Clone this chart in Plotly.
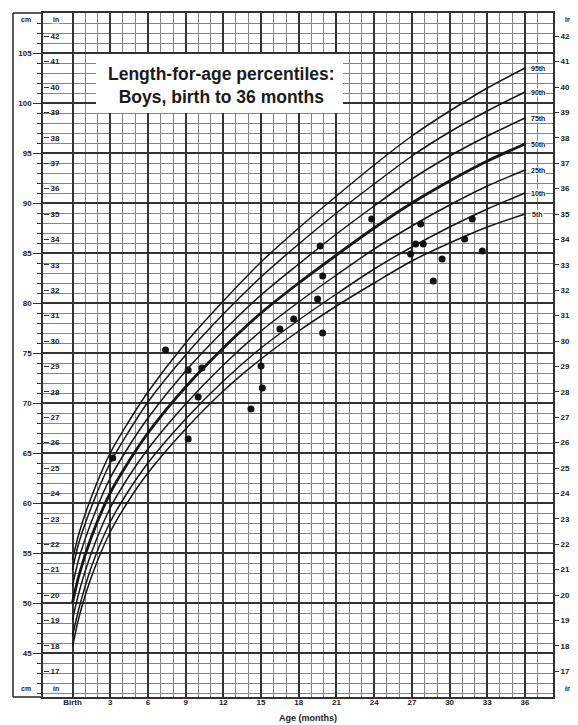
import plotly.graph_objects as go

# ---------------- data ----------------
ages = [0, 0.5, 1.5, 3, 4.5, 6, 9, 12, 15, 18, 21, 24, 27, 30, 33, 36]
p95 = [54.3, 56.9, 60.6, 65.0, 68.2, 71.1, 76.0, 80.2, 84.1, 87.5, 90.7, 93.8, 96.7, 99.2, 101.5, 103.5]
p90 = [53.3, 56.0, 59.6, 64.0, 67.2, 70.1, 74.8, 78.9, 82.6, 85.9, 89.0, 91.9, 94.7, 97.1, 99.2, 101.1]
p75 = [51.7, 54.4, 58.1, 62.5, 65.7, 68.5, 73.2, 77.2, 80.8, 83.9, 86.9, 89.7, 92.4, 94.7, 96.7, 98.5]
p50 = [50.0, 52.7, 56.6, 61.0, 64.2, 67.0, 71.6, 75.5, 79.0, 82.0, 84.8, 87.5, 90.0, 92.2, 94.2, 95.9]
p25 = [48.3, 51.0, 55.0, 59.5, 62.7, 65.4, 69.9, 73.8, 77.2, 80.1, 82.8, 85.4, 87.7, 89.8, 91.7, 93.3]
p10 = [46.7, 49.4, 53.6, 58.1, 61.3, 64.0, 68.4, 72.2, 75.5, 78.3, 80.9, 83.4, 85.6, 87.6, 89.4, 91.0]
p5 = [45.6, 48.5, 52.6, 57.1, 60.3, 63.0, 67.4, 71.2, 74.4, 77.2, 79.7, 82.0, 84.2, 86.0, 87.6, 88.9]
pct_names = ["95th", "90th", "75th", "50th", "25th", "10th", "5th"]

pt_age = [3.2, 7.4, 9.2, 10.3, 10.0, 9.2, 14.2, 15.0, 15.1, 16.5, 17.6, 19.7, 19.9, 19.5,
          19.9, 23.8, 26.9, 27.7, 27.3, 27.9, 29.4, 28.7, 31.2, 31.8, 32.6]
pt_len = [64.5, 75.3, 73.3, 73.5, 70.6, 66.4, 69.4, 73.7, 71.5, 77.4, 78.4, 85.7, 82.7, 80.4,
          77.0, 88.4, 84.9, 87.9, 85.9, 85.9, 84.4, 82.2, 86.4, 88.4, 85.2]

month_ticks = [0, 3, 6, 9, 12, 15, 18, 21, 24, 27, 30, 33, 36]
month_text = ["Birth", "3", "6", "9", "12", "15", "18", "21", "24", "27", "30", "33", "36"]
cm_ticks = [45, 50, 55, 60, 65, 70, 75, 80, 85, 90, 95, 100, 105]
in_ticks = list(range(17, 43))

title_lines = ["Length-for-age percentiles:", "Boys, birth to 36 months"]
x_title = "Age (months)"

# ---------------- geometry (reference pixel frame) ----------------
WIN_W, WIN_H = 578, 725
OFF = 8                      # page body margin of the browser
W, H = WIN_W - OFF, WIN_H - OFF
PL, PR, PT, PB = 43, 553, 13, 697      # plot area edges in window pixels
ML, MT = PL - OFF, PT - OFF
MR, MB = WIN_W - PR, WIN_H - PB
PW, PH = PR - PL, PB - PT
PX0, PXM = 72.5, 12.57          # pixel of birth, pixels per month
x_range = [(PL - PX0) / PXM, (PR - PX0) / PXM]
y_range = [40.6, 109.0]
in_range = [y_range[0] / 2.54, y_range[1] / 2.54]


def px(xp):
    return (xp - PL) / PW


def py(yp):
    return 1 - (yp - PT) / PH


LINE = "#151515"
MINOR = "#858585"
MAJOR = "#333333"
TXT = "#222222"
FONT = "Liberation Sans, Arial, sans-serif"

fig = go.Figure()
series = [p95, p90, p75, p50, p25, p10, p5]
for name, vals in zip(pct_names, series):
    fig.add_trace(go.Scatter(
        x=ages, y=vals, mode="lines", name=name,
        line=dict(color=LINE, width=2.8 if name == "50th" else 1.5, shape="spline", smoothing=0.8),
        showlegend=False, hoverinfo="skip"))

fig.add_trace(go.Scatter(
    x=pt_age, y=pt_len, mode="markers",
    marker=dict(color="#111111", size=7), showlegend=False))

# invisible traces so the inch axes render
fig.add_trace(go.Scatter(x=[0], y=[20], yaxis="y2", mode="markers",
                         marker=dict(opacity=0), showlegend=False, hoverinfo="skip"))
fig.add_trace(go.Scatter(x=[0], y=[20], yaxis="y3", mode="markers",
                         marker=dict(opacity=0), showlegend=False, hoverinfo="skip"))

tickfont = dict(family=FONT, size=8, color=TXT)

fig.update_layout(
    template="none",
    width=W, height=H,
    font=dict(family=FONT, color=TXT),
    margin=dict(l=ML, r=MR, t=MT, b=MB, pad=0, autoexpand=False),
    paper_bgcolor="white", plot_bgcolor="white",
    xaxis=dict(
        range=x_range, showline=True, mirror=True, linecolor=MAJOR, linewidth=1.6,
        tickmode="array", tickvals=month_ticks,
        ticktext=["<b>%s</b>" % t for t in month_text],
        ticks="", tickfont=tickfont, ticklabelstandoff=-3,
        showgrid=True, gridcolor=MAJOR, gridwidth=1.6,
        minor=dict(tickmode="array", tickvals=list(range(0, 38)), showgrid=True,
                   gridcolor=MINOR, gridwidth=1),
        zeroline=False, automargin=False),
    yaxis=dict(
        range=y_range, showline=True, mirror=True, linecolor=MAJOR, linewidth=1.6,
        tickmode="array", tickvals=cm_ticks,
        ticktext=["<b>%d</b>" % t for t in cm_ticks],
        ticks="outside", ticklen=8, tickcolor=MAJOR, tickfont=tickfont,
        showgrid=True, gridcolor=MAJOR, gridwidth=1.6,
        minor=dict(tickmode="array", tickvals=list(range(41, 109)), showgrid=True,
                   gridcolor=MINOR, gridwidth=1, ticks="outside", ticklen=4, tickcolor=MAJOR),
        zeroline=False, automargin=False),
    yaxis2=dict(
        range=in_range, overlaying="y", anchor="free", position=0, side="right",
        tickmode="array", tickvals=in_ticks,
        ticktext=["<b>%d</b>" % t for t in in_ticks],
        ticks="outside", ticklen=5, tickcolor=MAJOR, tickfont=tickfont,
        showgrid=False, zeroline=False, showline=False, automargin=False),
    yaxis3=dict(
        range=in_range, overlaying="y", anchor="x", side="right",
        tickmode="array", tickvals=in_ticks,
        ticktext=["<b>%d</b>" % t for t in in_ticks],
        ticks="outside", ticklen=5, tickcolor=MAJOR, tickfont=tickfont,
        showgrid=False, zeroline=False, showline=False, automargin=False),
    shapes=[
        dict(type="rect", xref="paper", yref="paper", x0=px(96), x1=px(343), y0=py(113), y1=py(54),
             fillcolor="white", line=dict(width=0), layer="above"),
        dict(type="line", xref="paper", yref="paper", x0=px(13), x1=px(13), y0=0, y1=1,
             line=dict(color=MAJOR, width=1.6)),
        dict(type="line", xref="paper", yref="paper", x0=px(13), x1=0, y0=0, y1=0,
             line=dict(color=MAJOR, width=1.6)),
        dict(type="line", xref="paper", yref="paper", x0=px(13), x1=0, y0=1, y1=1,
             line=dict(color=MAJOR, width=1.6)),
    ],
)

ann = []
for name, vals in zip(pct_names, series):
    ann.append(dict(x=37.0, y=vals[-1], xref="x", yref="y", text="<b>%s</b>" % name,
                    xanchor="center", yanchor="middle",
                    showarrow=False, font=dict(family=FONT, size=7, color=TXT),
                    bgcolor="white", borderpad=0))
ann.append(dict(x=px(221), y=py(85.5), xref="paper", yref="paper",
                xanchor="center", yanchor="middle",
                text="<b>%s</b><br><b>%s</b>" % tuple(title_lines), showarrow=False,
                font=dict(family=FONT, size=17.5, color="#1a1a1a"), align="center"))
ann.append(dict(x=px(308), y=py(718), xref="paper", yref="paper", text="<b>%s</b>" % x_title,
                xanchor="center", yanchor="middle",
                showarrow=False, font=dict(family=FONT, size=9, color=TXT)))
for lbl, xp in [("cm", 26), ("in", 56), ("in", 568)]:
    for yp in (20, 688):
        ann.append(dict(x=px(xp), y=py(yp), xref="paper", yref="paper", text="<b>%s</b>" % lbl,
                        xanchor="center", yanchor="middle",
                        showarrow=False, font=dict(family=FONT, size=7, color=TXT),
                        bgcolor="white", borderpad=0))
fig.update_layout(annotations=ann)

fig.write_html("out.html")
